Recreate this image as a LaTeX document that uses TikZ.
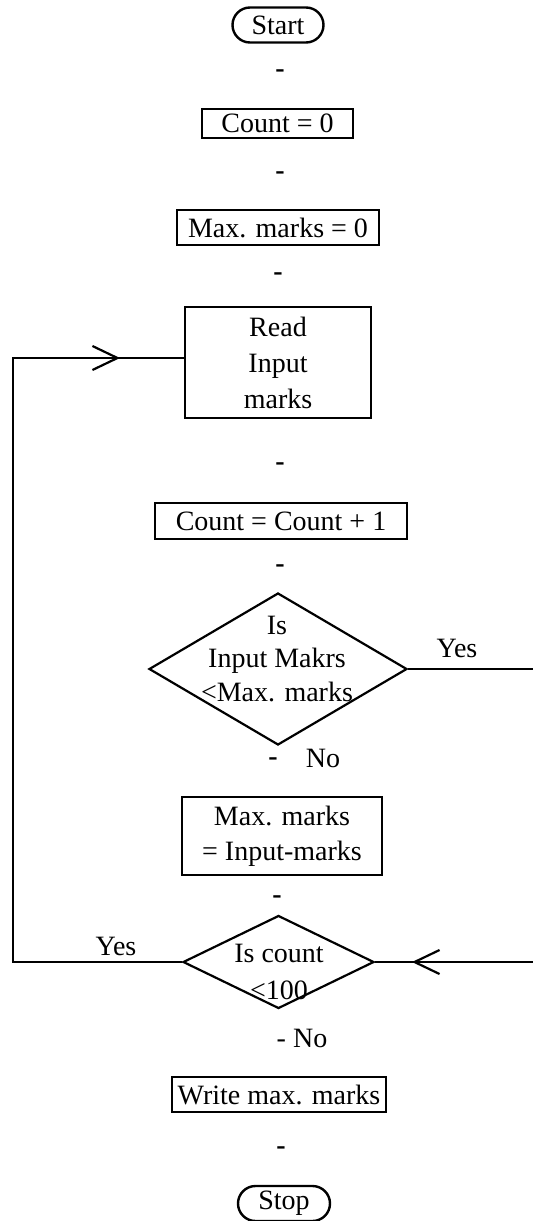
\documentclass[tikz,border=0pt]{standalone}
\usepackage{fontspec}
\setmainfont{Liberation Serif}
\usetikzlibrary{shapes.geometric,shapes.misc,arrows.meta}
\begin{document}
\begin{tikzpicture}[x=0.5pt,y=-0.5pt,
  txt/.style={font=\fontsize{14}{17}\selectfont, inner sep=0pt, align=center},
  oval/.style={txt, draw, line width=1.2pt, rounded rectangle, minimum height=17.5pt},
  box/.style={txt, draw, line width=1.3pt, rectangle},
  dia/.style={draw, line width=1.1pt, diamond, inner sep=0pt},
  dashmark/.style={txt, font=\fontsize{14}{17}\bfseries},
  line/.style={line width=1.1pt},
  barb/.tip={Straight Barb[length=12.5pt,width=12pt,line width=1.1pt]}
]
\useasboundingbox (0,0) rectangle (533,1221);

% nodes
\node[oval, minimum width=45.5pt] (start) at (278,25) {Start};
\node[dashmark] (d1) at (280,74) {-};
\node[box, minimum width=75.5pt, minimum height=14.5pt] (count0) at (277.5,123.5) {Count = 0};
\node[dashmark] (d2) at (280,176) {-};
\node[box, minimum width=101pt, minimum height=17.5pt] (max0) at (278,227.5) {Max. marks = 0};
\node[dashmark] (d3) at (278,277) {-};
\node[box, minimum width=93pt, minimum height=55.5pt, font=\fontsize{14}{18}\selectfont] (read) at (278,362.5) {Read\\Input\\marks};
\node[dashmark] (d4) at (280,467) {-};
\node[box, minimum width=126pt, minimum height=18pt] (inc) at (281,521) {Count = Count + 1};
\node[dashmark] (d5) at (280,569) {-};
\node[dia, minimum width=129pt, minimum height=76pt] (q1) at (278,669) {};
\node[txt, font=\fontsize{14}{16.75}\selectfont] (q1t) at (277,659) {Is\\Input Makrs\\<Max. marks};
\node[txt] (yes1) at (457,648) {Yes};
\node[dashmark] (d6) at (273,762) {-};
\node[txt] (no1) at (323,758) {No};
\node[box, minimum width=100pt, minimum height=39pt, font=\fontsize{14}{17.5}\selectfont] (upd) at (282,836) {Max. marks\\= Input-marks};
\node[dashmark] (d7) at (277,900) {-};
\node[dia, minimum width=95.5pt, minimum height=46.5pt] (q2) at (278.5,962) {};
\node[txt, font=\fontsize{14}{18.5}\selectfont] (q2t) at (279,972) {Is count\\<100};
\node[txt] (yes2) at (116,946) {Yes};
\node[txt] (no2) at (302,1038) {- No};
\node[box, minimum width=107pt, minimum height=17.5pt] (write) at (279,1094.5) {Write max. marks};
\node[dashmark] (d8) at (281,1151) {-};
\node[oval, minimum width=46pt] (stop) at (284,1203.5) {Stop};

% connectors
\coordinate (lb) at (13,962);
\coordinate (lt) at (13,358);
\coordinate (a1) at (120,358);
\coordinate (r1) at (533,669);
\coordinate (r2) at (533,962);
\coordinate (a2) at (412,962);

\draw[line] (q2.west) -- (lb) -- (lt) -- (a1 -| read.west);
\draw[line,-{barb}] (lt) -- (a1);
\draw[line] (q1.east) -- (r1);
\draw[line] (r2) -- (q2.east);
\draw[line,-{barb}] (r2) -- (a2);
\end{tikzpicture}
\end{document}
